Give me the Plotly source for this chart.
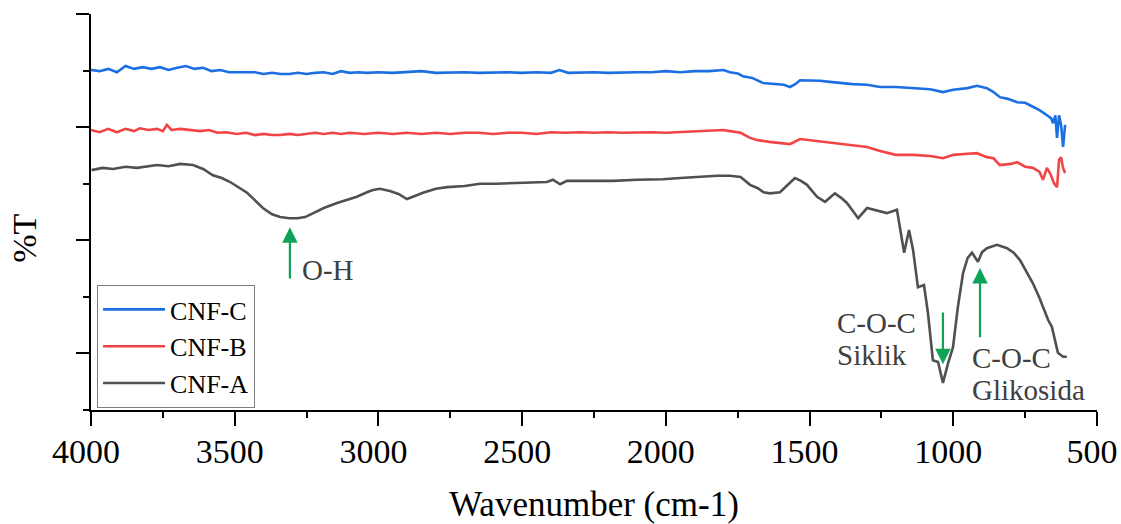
import plotly.graph_objects as go

# ---- data (wavenumber cm-1, %T in arbitrary offset units) ----
c_wn = [4000, 3970, 3940, 3910, 3880, 3850, 3820, 3790, 3760, 3730, 3700, 3670, 3640, 3610, 3580, 3550,
        3520, 3490, 3460, 3430, 3400, 3370, 3340, 3310, 3280, 3250, 3220, 3190, 3160, 3130, 3100, 3070,
        3040, 3000, 2950, 2900, 2850, 2800, 2750, 2700, 2650, 2600, 2550, 2500, 2450, 2400, 2370, 2340,
        2300, 2250, 2200, 2150, 2100, 2050, 2000, 1950, 1900, 1850, 1800, 1777, 1750, 1732, 1700, 1662,
        1620, 1590, 1568, 1550, 1533, 1500, 1464, 1430, 1394, 1350, 1300, 1255, 1200, 1140, 1080, 1036,
        1000, 950, 918, 883, 860, 838, 810, 778, 750, 723, 700, 674, 660, 653, 645, 639, 632, 625, 618, 611]
c_t = [60.1, 59.9, 60.3, 59.7, 60.8, 60.3, 60.6, 60.3, 60.6, 60.1, 60.5, 60.8, 60.3, 60.5, 59.9, 60.1,
       59.7, 59.7, 59.6, 59.7, 59.4, 59.6, 59.4, 59.4, 59.6, 59.4, 59.6, 59.7, 59.4, 59.9, 59.6, 59.7,
       59.6, 59.7, 59.6, 59.7, 59.9, 59.6, 59.7, 59.7, 59.6, 59.7, 59.7, 59.6, 59.7, 59.6, 60.1, 59.6,
       59.7, 59.7, 59.6, 59.7, 59.7, 59.7, 59.9, 59.7, 59.9, 59.9, 60.1, 59.7, 59.5, 59.0, 58.7, 57.8,
       57.6, 57.5, 57.1, 57.6, 58.3, 58.3, 58.2, 58.0, 57.8, 57.6, 57.5, 57.1, 57.1, 56.9, 56.7, 56.2,
       56.6, 56.9, 57.3, 56.9, 56.2, 55.3, 55.0, 54.4, 54.3, 53.6, 53.0, 52.1, 51.6, 50.7, 52.1, 48.1,
       52.1, 50.4, 46.5, 50.4]

b_wn = [4000, 3970, 3940, 3910, 3880, 3850, 3830, 3800, 3770, 3750, 3736, 3720, 3690, 3656, 3620, 3590,
        3560, 3530, 3492, 3460, 3430, 3400, 3370, 3342, 3310, 3280, 3250, 3220, 3190, 3160, 3130, 3100,
        3050, 3000, 2950, 2900, 2850, 2800, 2750, 2700, 2650, 2600, 2550, 2500, 2450, 2400, 2350, 2300,
        2250, 2200, 2150, 2100, 2050, 2000, 1950, 1900, 1850, 1800, 1777, 1740, 1707, 1680, 1640, 1600,
        1568, 1533, 1500, 1464, 1420, 1394, 1350, 1300, 1255, 1200, 1140, 1080, 1036, 1000, 950, 918,
        883, 860, 838, 800, 778, 750, 723, 700, 688, 674, 660, 650, 639, 632, 625, 618, 611]
b_t = [49.5, 49.1, 49.7, 49.1, 49.7, 49.3, 49.8, 49.5, 49.7, 49.3, 50.4, 49.5, 49.7, 49.5, 49.3, 49.5,
       49.0, 49.1, 48.8, 49.0, 48.6, 48.8, 48.6, 48.6, 48.8, 48.6, 48.8, 49.0, 48.8, 49.0, 48.8, 49.0,
       48.8, 49.0, 48.8, 49.0, 48.8, 49.0, 48.8, 49.0, 49.0, 48.8, 49.0, 49.0, 48.8, 49.1, 49.0, 49.1,
       49.0, 49.1, 49.0, 49.1, 49.1, 49.0, 49.1, 49.3, 49.3, 49.5, 49.3, 49.0, 48.1, 47.7, 47.4, 47.2,
       47.0, 47.9, 47.7, 47.4, 47.2, 47.0, 46.8, 46.5, 45.8, 45.1, 45.1, 44.9, 44.5, 45.1, 45.3, 45.4,
       44.7, 44.5, 43.3, 43.5, 43.8, 43.0, 42.8, 42.1, 40.7, 42.8, 41.5, 40.1, 39.4, 44.2, 44.7, 42.8, 41.9]

a_wn = [3998, 3960, 3923, 3880, 3840, 3805, 3770, 3730, 3690, 3645, 3610, 3576, 3545, 3516, 3490, 3457,
        3430, 3402, 3370, 3342, 3310, 3283, 3255, 3228, 3190, 3144, 3110, 3075, 3040, 3019, 2995, 2960,
        2930, 2901, 2880, 2845, 2800, 2761, 2700, 2647, 2590, 2532, 2470, 2414, 2393, 2368, 2344, 2280,
        2184, 2100, 2010, 1950, 1892, 1822, 1777, 1740, 1707, 1680, 1660, 1638, 1603, 1580, 1551, 1530,
        1509, 1474, 1446, 1412, 1390, 1370, 1331, 1300, 1260, 1231, 1196, 1185, 1171, 1154, 1140, 1123,
        1102, 1088, 1071, 1053, 1036, 1018, 1001, 984, 966, 950, 935, 914, 900, 883, 848, 813, 790, 768,
        745, 723, 700, 688, 670, 657, 636, 618, 605]
a_t = [42.4, 42.8, 42.6, 43.0, 42.8, 43.1, 43.3, 43.1, 43.5, 43.3, 42.6, 41.5, 41.0, 40.3, 39.4, 38.4,
       37.1, 35.7, 34.6, 34.1, 33.9, 33.9, 34.1, 34.8, 35.7, 36.6, 37.1, 37.7, 38.5, 38.9, 39.1, 38.7,
       38.2, 37.3, 37.7, 38.4, 39.1, 39.4, 39.6, 40.0, 40.0, 40.1, 40.1, 40.3, 40.7, 39.9, 40.5, 40.5,
       40.5, 40.7, 40.8, 41.0, 41.2, 41.4, 41.4, 41.2, 39.8, 39.2, 38.5, 38.3, 38.5, 39.6, 41.0, 40.5,
       39.8, 37.7, 36.8, 38.3, 37.5, 36.6, 33.9, 35.7, 35.2, 34.8, 35.4, 32.3, 27.8, 31.8, 28.3, 21.7,
       22.1, 17.1, 8.8, 8.5, 4.8, 8.3, 11.1, 18.2, 24.2, 26.9, 27.8, 26.2, 27.9, 28.6, 29.2, 28.6, 27.8, 26.5,
       24.4, 22.4, 19.8, 18.2, 15.9, 14.7, 10.1, 9.4, 9.4]

series_names = ["CNF-C", "CNF-B", "CNF-A"]
series_colors = ["#1B6FE3", "#F24444", "#505050"]

x_ticks = [4000, 3500, 3000, 2500, 2000, 1500, 1000, 500]

FONT = "Liberation Serif, Times New Roman, serif"
GREEN = "#0FA358"
TXT = "#404040"

fig = go.Figure()
for wn, t, name, col in [(c_wn, c_t, series_names[0], series_colors[0]),
                         (b_wn, b_t, series_names[1], series_colors[1]),
                         (a_wn, a_t, series_names[2], series_colors[2])]:
    fig.add_trace(go.Scatter(x=wn, y=t, mode="lines", name=name,
                             line=dict(color=col, width=2.6)))

# arrows
arrows = [((3308, 32.3), (3308, 23.0)),
          ((1036, 8.1), (1036, 17.5)),
          ((907, 25.1), (907, 12.6))]
for (tx, ty), (sx, sy) in arrows:
    fig.add_annotation(x=tx, y=ty, ax=sx, ay=sy, xref="x", yref="y", axref="x", ayref="y",
                       showarrow=True, arrowhead=2, arrowsize=1.4, arrowwidth=2.2,
                       arrowcolor=GREEN, text="")

labels = [("O-H", 3273, 24.7),
          ("C-O-C", 1412, 15.4), ("Siklik", 1412, 9.7),
          ("C-O-C", 942, 9.2), ("Glikosida", 942, 3.5)]
for txt, lx, ly in labels:
    fig.add_annotation(x=lx, y=ly, xref="x", yref="y", text=txt, showarrow=False,
                       xanchor="left", yanchor="middle",
                       font=dict(family=FONT, size=29, color=TXT))

# y-axis title (placed as in the reference, slightly below the axis middle)
fig.add_annotation(x=-0.066, y=0.434, xref="paper", yref="paper", text="%T", showarrow=False,
                   textangle=-90, xanchor="center", yanchor="middle",
                   font=dict(family=FONT, size=34, color="black"))

fig.update_layout(
    width=1121, height=524,
    margin=dict(l=91, r=24, t=14, b=114, autoexpand=False),
    paper_bgcolor="white", plot_bgcolor="white",
    font=dict(family=FONT, color="black"),
    showlegend=True,
    legend=dict(x=0.006, y=0.005, xanchor="left", yanchor="bottom",
                bordercolor="#7F7F7F", borderwidth=1, bgcolor="white",
                font=dict(family=FONT, size=26, color="black"),
                itemwidth=62, tracegroupgap=0),
    xaxis=dict(range=[4000, 500], tickvals=x_ticks,
               ticks="outside", ticklen=14, tickwidth=2,
               tickcolor="black", showline=True, linecolor="black", linewidth=2,
               showgrid=False, zeroline=False, mirror=False, ticklabelstandoff=-4,
               ticklabelshift=5, ticklabeloverflow="allow", automargin=False,
               tickfont=dict(family=FONT, size=34, color="black"),
               minor=dict(ticks="outside", ticklen=6, tickwidth=2, tickcolor="black",
                          dtick=250, tick0=0, showgrid=False),
               title=dict(text="Wavenumber (cm-1)", standoff=33,
                          font=dict(family=FONT, size=35, color="black"))),
    yaxis=dict(range=[0, 70], tick0=10, dtick=20, ticks="outside", ticklen=13, tickwidth=2,
               tickcolor="black", showline=True, linecolor="black", linewidth=2,
               showgrid=False, zeroline=False, showticklabels=False, automargin=False,
               minor=dict(ticks="outside", ticklen=6, tickwidth=2, tickcolor="black",
                          dtick=10, tick0=0, showgrid=False)),
)

fig.write_html("out.html", config={"displayModeBar": False},
               post_script="document.body.style.margin='0';document.body.style.overflow='hidden';")
